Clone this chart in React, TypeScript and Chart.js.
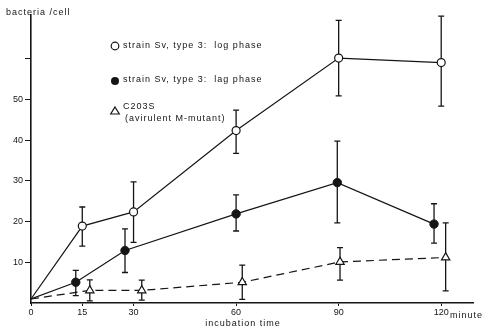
import React, { useEffect, useRef } from "react";
import { Chart, registerables } from "chart.js";

Chart.register(...registerables);

// ---- data ----
const xTickValues = [0, 15, 30, 60, 90, 120];
const yTickValues = [10, 20, 30, 40, 50, 60];
const yLabelledTicks = [10, 20, 30, 40, 50];

const timesLog = [0, 15, 30, 60, 90, 120];
const valuesLog = [1, 18.9, 22.4, 42.4, 60.2, 59.1];
const lowLog = [null, 14.0, 14.9, 36.8, 50.9, 48.4];
const highLog = [null, 23.6, 29.8, 47.4, 69.5, 70.5];

const timesLag = [0, 13.1, 27.5, 60, 89.6, 117.9];
const valuesLag = [1, 5.1, 12.9, 21.9, 29.6, 19.4];
const lowLag = [null, 1.8, 7.5, 17.7, 19.7, 14.7];
const highLag = [null, 8.0, 18.2, 26.6, 39.8, 24.4];

const timesMut = [0, 17.2, 32.4, 61.8, 90.4, 121.3];
const valuesMut = [1, 3.1, 3.1, 5.1, 10.1, 11.2];
const lowMut = [null, 0.5, 0.7, 0.9, 5.6, 3.0];
const highMut = [null, 5.7, 5.6, 9.3, 13.6, 19.7];

const legendLabels = [
  "strain Sv, type 3:  log phase",
  "strain Sv, type 3:  lag phase",
  "C203S",
];
const legendSubLabel = "(avirulent M-mutant)";
const yTitle = "bacteria /cell";
const xTitle = "incubation time";
const xUnit = "minutes";

const FONT = '"Liberation Sans", Arial, sans-serif';
const INK = "#151515";

function pts(xs: number[], ys: number[]) {
  return xs.map((x, i) => ({ x, y: ys[i] }));
}

const errorBars = [
  { times: timesLog, low: lowLog, high: highLog },
  { times: timesLag, low: lowLag, high: highLag },
  { times: timesMut, low: lowMut, high: highMut },
];

const errorBarPlugin = {
  id: "errorBars",
  beforeDatasetsDraw(chart: any) {
    const { ctx, scales } = chart;
    const xs = scales.x;
    const ys = scales.y;
    ctx.save();
    ctx.strokeStyle = INK;
    ctx.lineWidth = 1.3;
    errorBars.forEach((eb) => {
      eb.times.forEach((t, i) => {
        const lo = eb.low[i];
        const hi = eb.high[i];
        if (lo == null || hi == null) return;
        const px = xs.getPixelForValue(t);
        const y1 = ys.getPixelForValue(lo);
        const y2 = ys.getPixelForValue(hi);
        ctx.beginPath();
        ctx.moveTo(px, y1);
        ctx.lineTo(px, y2);
        ctx.moveTo(px - 3, y1);
        ctx.lineTo(px + 3, y1);
        ctx.moveTo(px - 3, y2);
        ctx.lineTo(px + 3, y2);
        ctx.stroke();
      });
    });
    ctx.restore();
  },
};

const textPlugin = {
  id: "texts",
  afterDraw(chart: any) {
    const { ctx } = chart;
    ctx.save();
    ctx.fillStyle = INK;
    ctx.strokeStyle = INK;
    ctx.font = `9px ${FONT}`;
    (ctx as any).letterSpacing = "1px";
    ctx.textBaseline = "middle";
    ctx.textAlign = "left";
    ctx.fillText(yTitle, 6, 13);
    ctx.textAlign = "center";
    ctx.fillText(xTitle, 243, 324);
    ctx.textAlign = "left";
    ctx.fillText(xUnit, 450, 316);

    // legend
    const mx = 115;
    ctx.lineWidth = 1.2;
    // open circle
    ctx.beginPath();
    ctx.arc(mx, 46, 3.8, 0, Math.PI * 2);
    ctx.fillStyle = "#fff";
    ctx.fill();
    ctx.stroke();
    // filled circle
    ctx.beginPath();
    ctx.arc(mx, 81, 4, 0, Math.PI * 2);
    ctx.fillStyle = INK;
    ctx.fill();
    // triangle
    ctx.beginPath();
    ctx.moveTo(mx, 107);
    ctx.lineTo(mx + 4.3, 114);
    ctx.lineTo(mx - 4.3, 114);
    ctx.closePath();
    ctx.fillStyle = "#fff";
    ctx.fill();
    ctx.stroke();

    ctx.fillStyle = INK;
    ctx.fillText(legendLabels[0], 123, 46);
    ctx.fillText(legendLabels[1], 123, 80);
    ctx.fillText(legendLabels[2], 123, 107);
    ctx.fillText(legendSubLabel, 125, 118.5);
    ctx.restore();
  },
};

export default function App() {
  const ref = useRef<HTMLCanvasElement | null>(null);

  useEffect(() => {
    if (!ref.current) return;
    Chart.defaults.font.family = FONT;
    Chart.defaults.font.size = 9;
    Chart.defaults.color = INK;

    const chart = new Chart(ref.current, {
      type: "line",
      data: {
        datasets: [
          {
            label: legendLabels[0],
            data: pts(timesLog, valuesLog),
            borderColor: INK,
            borderWidth: 1.2,
            pointStyle: "circle",
            pointRadius: [0, 4, 4, 4, 4, 4],
            pointBackgroundColor: "#fff",
            pointBorderColor: INK,
            pointBorderWidth: 1.2,
            tension: 0,
          },
          {
            label: legendLabels[1],
            data: pts(timesLag, valuesLag),
            borderColor: INK,
            borderWidth: 1.2,
            pointStyle: "circle",
            pointRadius: [0, 4.2, 4.2, 4.2, 4.2, 4.2],
            pointBackgroundColor: INK,
            pointBorderColor: INK,
            pointBorderWidth: 1,
            tension: 0,
          },
          {
            label: legendLabels[2],
            data: pts(timesMut, valuesMut),
            borderColor: INK,
            borderWidth: 1.2,
            borderDash: [8, 5],
            pointStyle: "triangle",
            pointRadius: [0, 4.8, 4.8, 4.8, 4.8, 4.8],
            pointBackgroundColor: "#fff",
            pointBorderColor: INK,
            pointBorderWidth: 1.2,
            tension: 0,
          },
        ],
      },
      options: {
        responsive: false,
        animation: false,
        events: [],
        layout: { padding: { left: 0, right: 10, top: 15, bottom: 0 } },
        plugins: {
          legend: { display: false },
          tooltip: { enabled: false },
          title: { display: false },
        },
        scales: {
          x: {
            type: "linear",
            min: 0,
            max: 129.3,
            afterBuildTicks: (scale: any) => {
              scale.ticks = xTickValues.map((v) => ({ value: v }));
            },
            afterFit: (scale: any) => {
              scale.height = 28;
            },
            grid: {
              display: true,
              drawOnChartArea: false,
              drawTicks: true,
              tickLength: 3,
              color: INK,
              lineWidth: 1,
            },
            border: { display: true, color: INK, width: 1.6 },
            ticks: {
              maxRotation: 0,
              autoSkip: false,
              padding: 1,
              color: INK,
              font: { size: 9, family: FONT },
              callback: (v: any) => String(v),
            },
          },
          y: {
            type: "linear",
            min: 0,
            max: 70.8,
            afterBuildTicks: (scale: any) => {
              scale.ticks = yTickValues.map((v) => ({ value: v }));
            },
            afterFit: (scale: any) => {
              scale.width = 31;
            },
            grid: {
              display: true,
              drawOnChartArea: false,
              drawTicks: true,
              tickLength: 6,
              color: INK,
              lineWidth: 1,
            },
            border: { display: true, color: INK, width: 1.6 },
            ticks: {
              autoSkip: false,
              padding: 2,
              color: INK,
              font: { size: 9, family: FONT },
              callback: (v: any) =>
                yLabelledTicks.includes(Number(v)) ? String(v) : "",
            },
          },
        },
      },
      plugins: [errorBarPlugin, textPlugin],
    } as any);

    return () => chart.destroy();
  }, []);

  return (
    <div
      style={{
        position: "fixed",
        left: 0,
        top: 0,
        width: 483,
        height: 331,
        background: "#fff",
      }}
    >
      <canvas ref={ref} width={483} height={331} />
    </div>
  );
}
